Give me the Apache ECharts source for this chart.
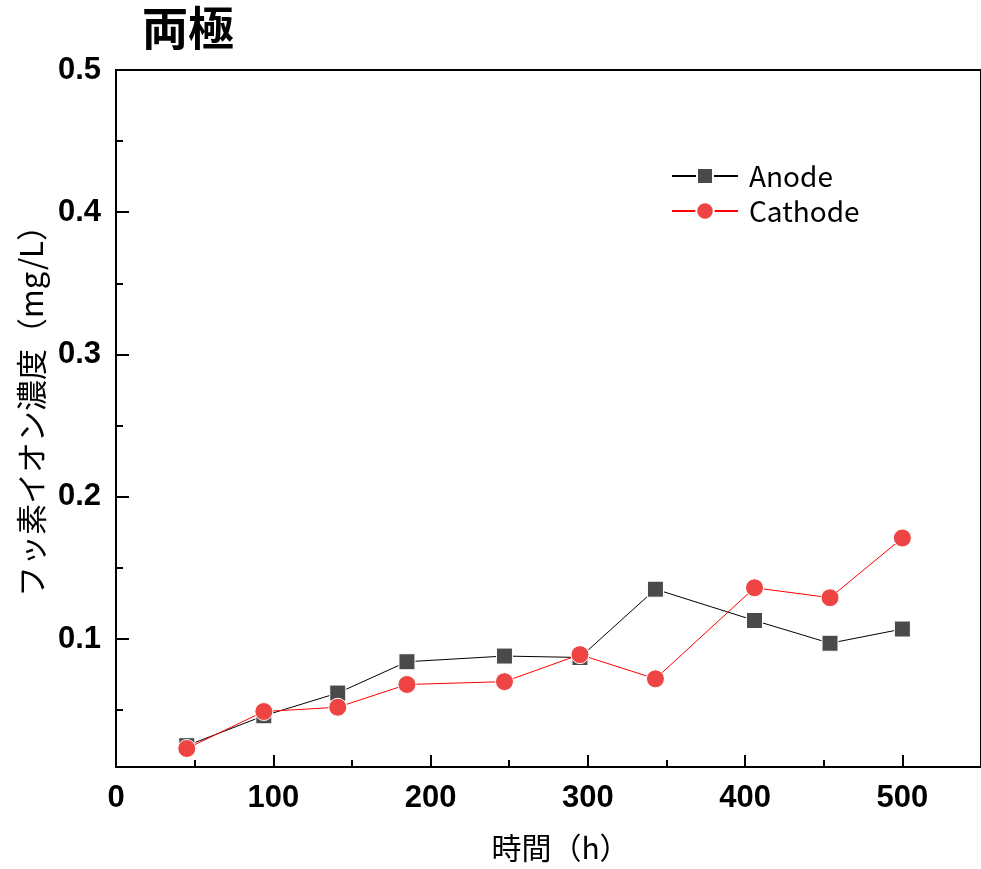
<!DOCTYPE html>
<html>
<head>
<meta charset="utf-8">
<script src="https://cdn.jsdelivr.net/npm/echarts@6/dist/echarts.min.js"></script>
<style>
  html, body { margin: 0; padding: 0; background: #fff; }
  #chart { width: 981px; height: 869px; }
</style>
</head>
<body>
<div id="chart"></div>
<script>
// Elapsed time (h) at each sampling
const hours = [45, 94, 141, 185, 247, 295, 343, 406, 454, 500];
// Fluoride ion concentration (mg/L)
const anode = [0.025, 0.046, 0.062, 0.084, 0.088, 0.087, 0.135, 0.113, 0.097, 0.107];
const cathode = [0.023, 0.049, 0.052, 0.068, 0.070, 0.089, 0.072, 0.136, 0.129, 0.171];

// Tick positions
const xMajorTicks = [0, 100, 200, 300, 400, 500];
const xMinorTicks = [50, 150, 250, 350, 450];
const yMajorTicks = [0.1, 0.2, 0.3, 0.4, 0.5];
const yMinorTicks = [0.05, 0.15, 0.25, 0.35, 0.45];

const seriesNames = ['Anode', 'Cathode'];

const pairs = (xs, ys) => xs.map((x, i) => [x, ys[i]]);

const tickFont = { fontFamily: 'Liberation Sans, Arial, sans-serif', fontWeight: 'bold', fontSize: 31, color: '#000' };
const jpFont = 'Noto Sans CJK JP, sans-serif';

const chart = echarts.init(document.getElementById('chart'), null, { renderer: 'canvas' });

chart.setOption({
  animation: false,
  backgroundColor: '#fff',
  title: {
    text: '両極',
    left: 137,
    top: 0,
    textStyle: { fontFamily: jpFont, fontWeight: 'bold', fontSize: 46, color: '#000' }
  },
  grid: {
    left: 116, top: 70, right: -3, bottom: 102,
    show: true, borderColor: '#000', borderWidth: 2, backgroundColor: 'transparent'
  },
  legend: [
    {
      data: [seriesNames[0]],
      left: 666, top: 157,
      itemWidth: 66, itemHeight: 20,
      textStyle: { fontFamily: jpFont, fontSize: 28, color: '#000', padding: [0, 0, 0, 6] }
    },
    {
      data: [seriesNames[1]],
      left: 666, top: 192,
      itemWidth: 66, itemHeight: 22,
      textStyle: { fontFamily: jpFont, fontSize: 28, color: '#000', padding: [0, 0, 0, 6] }
    }
  ],
  xAxis: [
    {
      type: 'value', min: 0, max: 550, interval: 100, position: 'bottom',
      name: '時間（h）', nameLocation: 'middle', nameGap: 66,
      nameTextStyle: { fontFamily: jpFont, fontSize: 30, color: '#000', padding: [0, 0, 0, 24] },
      axisLine: { show: true, onZero: false, lineStyle: { color: '#000', width: 2 } },
      axisTick: { show: true, inside: true, length: 12, customValues: xMajorTicks, lineStyle: { color: '#000', width: 2 } },
      axisLabel: Object.assign({ margin: 16, customValues: xMajorTicks }, tickFont),
      splitLine: { show: false }
    },
    {
      type: 'value', min: 0, max: 550, position: 'bottom',
      axisLine: { show: false },
      axisTick: { show: true, inside: true, length: 7, customValues: xMinorTicks, lineStyle: { color: '#000', width: 2 } },
      axisLabel: { show: false },
      splitLine: { show: false }
    }
  ],
  yAxis: [
    {
      type: 'value', min: 0.01, max: 0.5, position: 'left',
      name: 'フッ素イオン濃度（mg/L）', nameLocation: 'middle', nameGap: 68, nameRotate: 90,
      nameTextStyle: { fontFamily: jpFont, fontSize: 31, color: '#000', padding: [0, 0, 0, 30] },
      axisLine: { show: true, onZero: false, lineStyle: { color: '#000', width: 2 } },
      axisTick: { show: true, inside: true, length: 13, customValues: yMajorTicks, lineStyle: { color: '#000', width: 2 } },
      axisLabel: Object.assign({ margin: 15, customValues: yMajorTicks, formatter: v => v.toFixed(1) }, tickFont),
      splitLine: { show: false }
    },
    {
      type: 'value', min: 0.01, max: 0.5, position: 'left',
      axisLine: { show: false },
      axisTick: { show: true, inside: true, length: 7, customValues: yMinorTicks, lineStyle: { color: '#000', width: 2 } },
      axisLabel: { show: false },
      splitLine: { show: false }
    }
  ],
  series: [
    {
      name: seriesNames[0], type: 'line', xAxisIndex: 0, yAxisIndex: 0,
      data: pairs(hours, anode),
      symbol: 'rect', symbolSize: 16,
      lineStyle: { color: '#000', width: 1 },
      itemStyle: { color: '#4a4a4a', borderColor: '#fff', borderWidth: 1 },
      z: 3
    },
    {
      name: seriesNames[1], type: 'line', xAxisIndex: 0, yAxisIndex: 0,
      data: pairs(hours, cathode),
      symbol: 'circle', symbolSize: 18,
      lineStyle: { color: '#ff0000', width: 1 },
      itemStyle: { color: '#ef4444', borderColor: '#fff', borderWidth: 1 },
      z: 4
    }
  ]
});
</script>
</body>
</html>
